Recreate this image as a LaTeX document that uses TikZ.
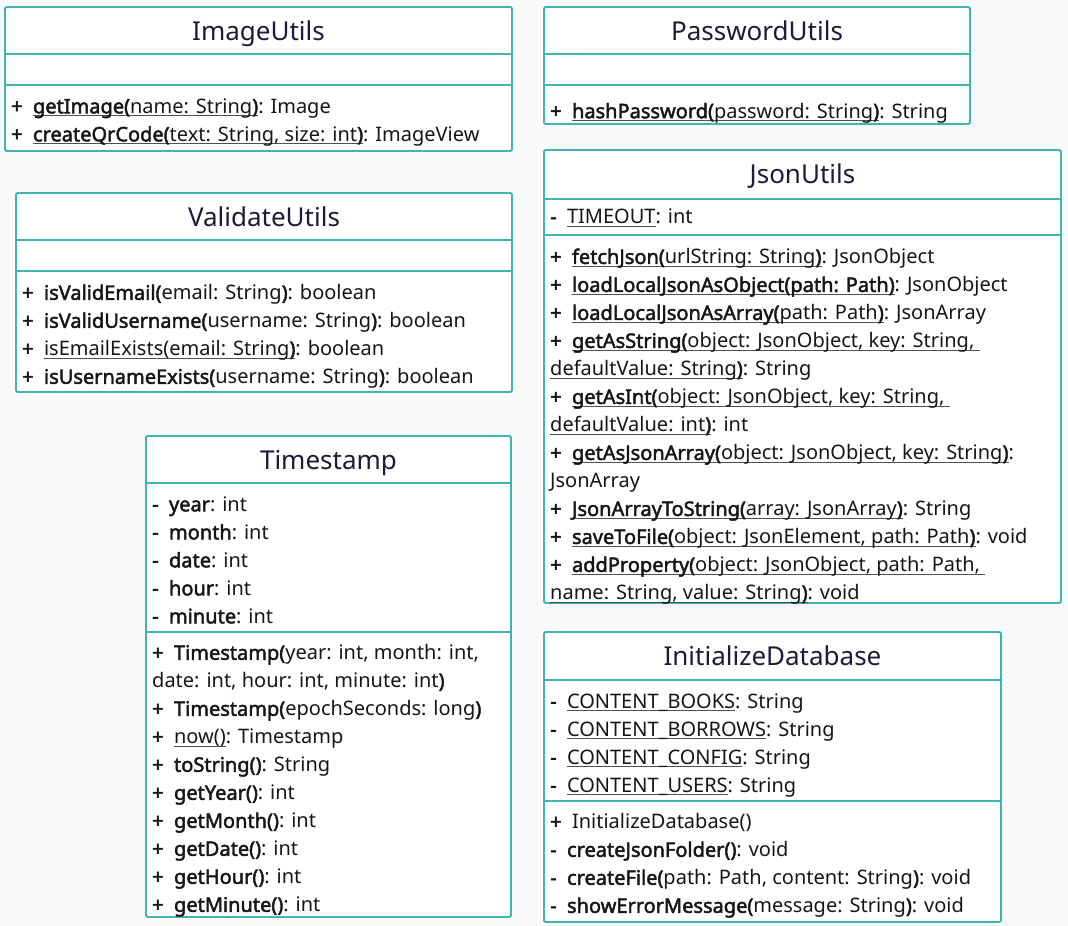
\documentclass[tikz,border=0pt]{standalone}
\usepackage{fontspec}
\setmainfont{Noto Sans}[AutoFakeBold=2.2]
\definecolor{boxBorder}{HTML}{3FB4B1}
\definecolor{pageBack}{HTML}{F8F9FB}
\definecolor{titleInk}{HTML}{1C1C3A}
\definecolor{bodyInk}{HTML}{161616}
\newsavebox{\statbox}
\newcommand{\stat}[1]{\sbox{\statbox}{#1}\rlap{\color{bodyInk!75}\rule[-3pt]{\wd\statbox}{1pt}}\usebox{\statbox}}
\newcommand{\pub}{\textbf{+}\ \ }
\newcommand{\priv}{\textbf{-}\ \ }

\begin{document}
\begin{tikzpicture}[x=1pt,y=-1pt]

          \tikzstyle{classBox} = [draw=boxBorder,line width=1.8pt,fill=white,rounded corners=1.5pt];
          \tikzstyle{classLine} = [draw=boxBorder,line width=1.8pt];
          \tikzstyle{classTitle} = [anchor=base,inner sep=0pt,text=titleInk,font=\fontsize{26}{28}\selectfont];
          \tikzstyle{classMembers} = [anchor=north west,align=left,inner sep=0pt,text=bodyInk,
            font=\fontsize{20}{28}\selectfont,execute at begin node=\strut];

          \fill[pageBack] (0,0) rectangle (1068,926);
          \useasboundingbox (0,0) rectangle (1068,926);

          % ImageUtils
          \draw[classBox] (5,7) rectangle (512,151);
          \draw[classLine] (5,54) -- (512,54);
          \draw[classLine] (5,85) -- (512,85);
          \node[classTitle] (imgTitle) at (258.5,40.5) {ImageUtils};
          \node[classMembers] (imgOps) at (11,98.4) {%
            \pub\stat{\textbf{getImage(}name: String\textbf{)}}: Image\\
            \pub\stat{\textbf{createQrCode(}text: String, size: int\textbf{)}}: ImageView};

          % PasswordUtils
          \draw[classBox] (544,7) rectangle (970,124);
          \draw[classLine] (544,54) -- (970,54);
          \draw[classLine] (544,85) -- (970,85);
          \node[classTitle] (pwdTitle) at (757,40.5) {PasswordUtils};
          \node[classMembers] (pwdOps) at (550,98.4) {%
            \pub\stat{\textbf{hashPassword(}password: String\textbf{)}}: String};

          % ValidateUtils
          \draw[classBox] (16,193) rectangle (512,392);
          \draw[classLine] (16,240) -- (512,240);
          \draw[classLine] (16,271) -- (512,271);
          \node[classTitle] (valTitle) at (264,226.5) {ValidateUtils};
          \node[classMembers] (valOps) at (22,284.4) {%
            \pub\textbf{isValidEmail(}email: String\textbf{)}: boolean\\
            \pub\textbf{isValidUsername(}username: String\textbf{)}: boolean\\
            \pub\stat{isEmailExists(email: String\textbf{)}}: boolean\\
            \pub\textbf{isUsernameExists(}username: String\textbf{)}: boolean};

          % JsonUtils
          \draw[classBox] (544,150) rectangle (1061,603);
          \draw[classLine] (544,199) -- (1061,199);
          \draw[classLine] (544,235) -- (1061,235);
          \node[classTitle] (jsonTitle) at (802.5,183.5) {JsonUtils};
          \node[classMembers] (jsonAttrs) at (550,204) {%
            \priv\stat{TIMEOUT}: int};
          \node[classMembers] (jsonOps) at (550,248.4) {%
            \pub\stat{\textbf{fetchJson(}urlString: String\textbf{)}}: JsonObject\\
            \pub\stat{\textbf{loadLocalJsonAsObject(path: Path)}}: JsonObject\\
            \pub\stat{\textbf{loadLocalJsonAsArray(}path: Path\textbf{)}}: JsonArray\\
            \pub\stat{\textbf{getAsString(}object: JsonObject, key: String,\ }\\
            \stat{defaultValue: String\textbf{)}}: String\\
            \pub\stat{\textbf{getAsInt(}object: JsonObject, key: String,\ }\\
            \stat{defaultValue: int\textbf{)}}: int\\
            \pub\stat{\textbf{getAsJsonArray(}object: JsonObject, key: String\textbf{)}}:\\
            JsonArray\\
            \pub\stat{\textbf{JsonArrayToString(}array: JsonArray\textbf{)}}: String\\
            \pub\stat{\textbf{saveToFile(}object: JsonElement, path: Path\textbf{)}}: void\\
            \pub\stat{\textbf{addProperty(}object: JsonObject, path: Path,\ }\\
            \stat{name: String, value: String\textbf{)}}: void};

          % Timestamp
          \draw[classBox] (146,436) rectangle (511,917);
          \draw[classLine] (146,483) -- (511,483);
          \draw[classLine] (146,632) -- (511,632);
          \node[classTitle] (tsTitle) at (328.5,469.5) {Timestamp};
          \node[classMembers] (tsAttrs) at (152,496.4) {%
            \priv\textbf{year}: int\\
            \priv\textbf{month}: int\\
            \priv\textbf{date}: int\\
            \priv\textbf{hour}: int\\
            \priv\textbf{minute}: int};
          \node[classMembers] (tsOps) at (152,644.4) {%
            \pub\textbf{Timestamp(}year: int, month: int,\\
            date: int, hour: int, minute: int\textbf{)}\\
            \pub\textbf{Timestamp(}epochSeconds: long\textbf{)}\\
            \pub\stat{now()}: Timestamp\\
            \pub\textbf{toString()}: String\\
            \pub\textbf{getYear()}: int\\
            \pub\textbf{getMonth()}: int\\
            \pub\textbf{getDate()}: int\\
            \pub\textbf{getHour()}: int\\
            \pub\textbf{getMinute()}: int};

          % InitializeDatabase
          \draw[classBox] (544,632) rectangle (1001,922);
          \draw[classLine] (544,680) -- (1001,680);
          \draw[classLine] (544,801) -- (1001,801);
          \node[classTitle] (dbTitle) at (772.5,665.5) {InitializeDatabase};
          \node[classMembers] (dbAttrs) at (550,693.4) {%
            \priv\stat{CONTENT\_BOOKS}: String\\
            \priv\stat{CONTENT\_BORROWS}: String\\
            \priv\stat{CONTENT\_CONFIG}: String\\
            \priv\stat{CONTENT\_USERS}: String};
          \node[classMembers] (dbOps) at (550,813.4) {%
            \pub InitializeDatabase()\\
            \priv\textbf{createJsonFolder()}: void\\
            \priv\textbf{createFile(}path: Path, content: String\textbf{)}: void\\
            \priv\textbf{showErrorMessage(}message: String\textbf{)}: void};
        \end{tikzpicture}
\end{document}
